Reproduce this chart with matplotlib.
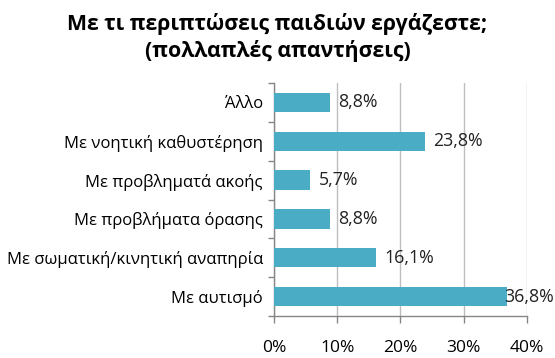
import matplotlib.pyplot as plt

# ======================================
# DATOS
# ======================================

categorias = [
    "Με αυτισμό",
    "Με σωματική/κινητική αναπηρία",
    "Με προβλήματα όρασης",
    "Με προβληματά ακοής",
    "Με νοητική καθυστέρηση",
    "Άλλο",
]
porcentajes = [36.8, 16.1, 8.8, 5.7, 23.8, 8.8]
xticks = [0, 10, 20, 30, 40]

titulo = "Με τι περιπτώσεις παιδιών εργάζεστε;\n(πολλαπλές απαντήσεις)"

# ======================================
# ESTILO
# ======================================

plt.rcParams["font.family"] = ["Open Sans", "DejaVu Sans"]

COLOR_BARRA = "#4BACC6"
COLOR_EJE = "#868686"
COLOR_GRID = "#BEBEBE"

# ======================================
# GRAFICO
# ======================================

fig = plt.figure(figsize=(5.55, 3.58), dpi=100)
ax = fig.add_axes([0.4937, 0.1173, 0.4558, 0.6507])

pos = list(range(len(categorias)))
ax.barh(pos, porcentajes, height=0.5, color=COLOR_BARRA, zorder=3)

for y, v in zip(pos, porcentajes):
    etiqueta = f"{v:.1f}%".replace(".", ",")
    # la etiqueta mas larga se mete un poco sobre la barra para no salirse
    dx = -2 if v > 35 else 6
    ax.annotate(
        etiqueta,
        xy=(v, y),
        xytext=(dx, 0),
        textcoords="offset points",
        va="center",
        ha="left",
        fontsize=12.8,
        color="#222222",
        zorder=4,
    )

ax.set_xlim(0, 40)
ax.set_ylim(-0.5, len(categorias) - 0.5)

ax.set_xticks(xticks)
ax.set_xticklabels([f"{t}%" for t in xticks])
ax.set_yticks(pos)
ax.set_yticklabels(categorias)

# marcas del eje y entre categorias
ax.set_yticks([p - 0.5 for p in range(len(categorias) + 1)], minor=True)
ax.tick_params(axis="y", which="major", length=0, pad=8, labelsize=12)
ax.tick_params(axis="y", which="minor", length=4, color=COLOR_EJE, width=1)
ax.tick_params(axis="x", length=5, color=COLOR_EJE, width=1, pad=12.5, labelsize=12.5)

ax.grid(axis="x", color=COLOR_GRID, linewidth=1, zorder=0)

for lado in ["top", "right"]:
    ax.spines[lado].set_visible(False)
for lado in ["left", "bottom"]:
    ax.spines[lado].set_color(COLOR_EJE)
    ax.spines[lado].set_linewidth(1)

fig.text(
    0.5,
    0.965,
    titulo,
    ha="center",
    va="top",
    fontsize=15.3,
    fontweight="bold",
    linespacing=1.35,
)

plt.savefig("out.png", dpi=100)
plt.close()
